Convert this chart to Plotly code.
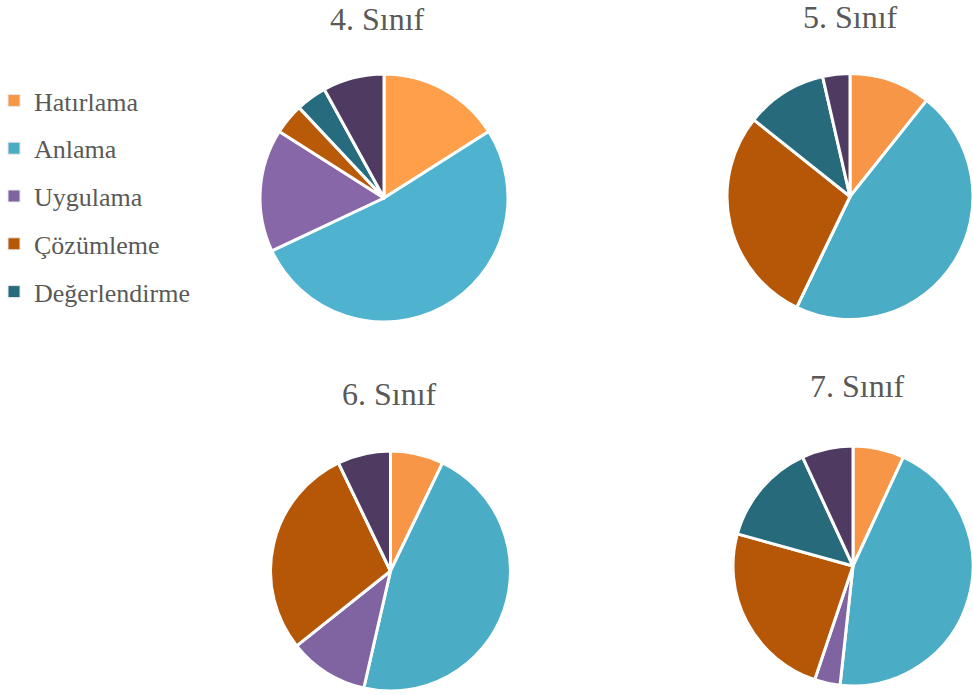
import plotly.graph_objects as go

W, H = 973, 695

categories = ["Hatırlama", "Anlama", "Uygulama", "Çözümleme", "Değerlendirme", "Yaratma"]
grade_titles = ["4. Sınıf", "5. Sınıf", "6. Sınıf", "7. Sınıf"]
values_4 = [4, 13, 4, 1, 1, 2]
values_5 = [3, 13, 0, 8, 3, 1]
values_6 = [2, 13, 3, 8, 0, 2]
values_7 = [2, 13, 1, 7, 4, 2]
legend_items = categories[:5]

colors_a = ["#FF9F4A", "#4FB3D0", "#8767A8", "#B85A08", "#276C7E", "#4F3B62"]
colors_b = ["#F79646", "#4BACC6", "#8064A2", "#B65708", "#276A7C", "#4F3B62"]

# pixel boxes (left, top, right, bottom) for each pie
boxes = [
    (260, 74, 508, 322),
    (727, 73, 973, 320),
    (270, 451, 511, 691),
    (733, 444, 973, 688),
]
title_pos = [(377, 19), (850, 17), (389, 394), (857, 386)]
series = [values_4, values_5, values_6, values_7]
palettes = [colors_a, colors_b, colors_b, colors_b]

fig = go.Figure()
for vals, box, pal in zip(series, boxes, palettes):
    l, t, r, b = box
    fig.add_trace(go.Pie(
        labels=categories, values=vals, sort=False, direction="clockwise",
        rotation=0, textinfo="none", hoverinfo="label+value",
        marker=dict(colors=pal, line=dict(color="white", width=3)),
        domain=dict(x=[l / W, r / W], y=[1 - b / H, 1 - t / H]),
        showlegend=False,
    ))

for name, col in zip(legend_items, colors_b):
    fig.add_trace(go.Scatter(
        x=[None], y=[None], mode="markers", name=name, legendgroup=name,
        marker=dict(symbol="square", size=12, color=col,
                    line=dict(color="#E6E6E6", width=1)),
    ))

annotations = []
for txt, (x, y) in zip(grade_titles, title_pos):
    annotations.append(dict(
        text=txt, x=x / W, y=1 - y / H, xref="paper", yref="paper",
        xanchor="center", yanchor="middle", showarrow=False,
        font=dict(family="Liberation Serif", size=32, color="#595959"),
    ))

fig.update_layout(
    width=W, height=H, margin=dict(l=0, r=0, t=0, b=0, autoexpand=False),
    paper_bgcolor="white", plot_bgcolor="white",
    xaxis=dict(visible=False), yaxis=dict(visible=False),
    annotations=annotations,
    legend=dict(
        x=-6 / W, y=1 - 77 / H, xanchor="left", yanchor="top",
        font=dict(family="Liberation Serif", size=26, color="#595959"),
        tracegroupgap=11, itemwidth=30, bgcolor="rgba(0,0,0,0)",
    ),
)

fig.write_html("out.html")
